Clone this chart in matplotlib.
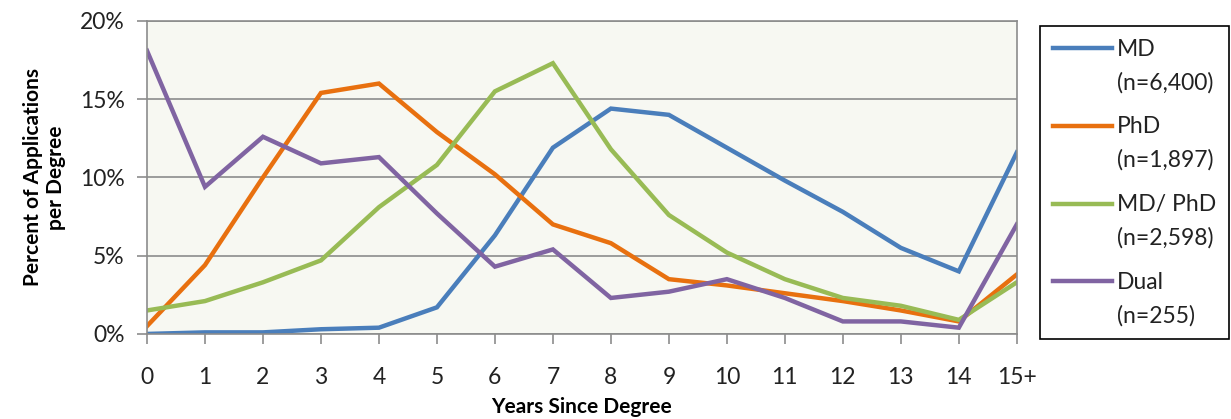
import matplotlib
matplotlib.use("Agg")
import matplotlib.pyplot as plt
import numpy as np

years = ["0", "1", "2", "3", "4", "5", "6", "7", "8", "9", "10", "11", "12", "13", "14", "15+"]

md = [0.0, 0.1, 0.1, 0.3, 0.4, 1.7, 6.3, 11.9, 14.4, 14.0, 11.9, 9.8, 7.8, 5.5, 4.0, 11.6]
phd = [0.5, 4.4, 10.0, 15.4, 16.0, 12.9, 10.2, 7.0, 5.8, 3.5, 3.1, 2.6, 2.1, 1.5, 0.8, 3.8]
md_phd = [1.5, 2.1, 3.3, 4.7, 8.1, 10.8, 15.5, 17.3, 11.8, 7.6, 5.2, 3.5, 2.3, 1.8, 0.9, 3.3]
dual = [18.1, 9.4, 12.6, 10.9, 11.3, 7.7, 4.3, 5.4, 2.3, 2.7, 3.5, 2.3, 0.8, 0.8, 0.4, 7.0]

labels = ["MD\n(n=6,400)", "PhD\n(n=1,897)", "MD/ PhD\n(n=2,598)", "Dual\n(n=255)"]
colors = ["#4A7EBB", "#E8700F", "#98BB55", "#8064A2"]

plt.rcParams['font.family'] = ['Lato', 'DejaVu Sans']

fig = plt.figure(figsize=(12.31, 4.19), dpi=100)
ax = fig.add_axes([0.1194, 0.203, 0.7066, 0.747])
ax.set_facecolor("#F7F8F2")

x = np.arange(len(years))
for series, lab, col in zip([md, phd, md_phd, dual], labels, colors):
    ax.plot(x, series, color=col, linewidth=3.2, label=lab, solid_joinstyle="miter")

ax.set_xlim(0, len(years) - 1)
ax.set_ylim(0, 20)
ax.set_xticks(x)
ax.set_xticklabels(years, fontsize=16.5, color="#222222")
ax.set_yticks([0, 5, 10, 15, 20])
ax.set_yticklabels(["0%", "5%", "10%", "15%", "20%"], fontsize=16.5, color="#222222")
ax.yaxis.grid(True, color="#8C8C8C", linewidth=1.2)
ax.set_axisbelow(True)
for s in ax.spines.values():
    s.set_color("#8C8C8C")
    s.set_linewidth(1.2)
ax.tick_params(axis="both", color="#8C8C8C", length=7, width=1.2, direction="out")
ax.tick_params(axis="x", pad=17)
ax.tick_params(axis="y", pad=9)

ax.set_xlabel("Years Since Degree", fontsize=15, fontweight="bold", labelpad=6)
ax.set_ylabel("Percent of Applications\nper Degree", fontsize=15, fontweight="bold", labelpad=10)

leg = fig.legend(loc="upper left", bbox_to_anchor=(0.845, 0.938), fontsize=16.5,
                 frameon=True, fancybox=False, edgecolor="black", framealpha=1,
                 handlelength=2.6, handletextpad=0.2, labelspacing=1.0,
                 borderpad=0.55, borderaxespad=0)
leg.get_frame().set_linewidth(1.2)
for t in leg.get_texts():
    t.set_linespacing(1.7)
    t.set_color("#222222")
# put each legend line level with the first line of its label
for ln in leg.get_lines():
    ln.set_ydata(np.asarray(ln.get_ydata()) + 13)

fig.savefig("out.png", dpi=100)
